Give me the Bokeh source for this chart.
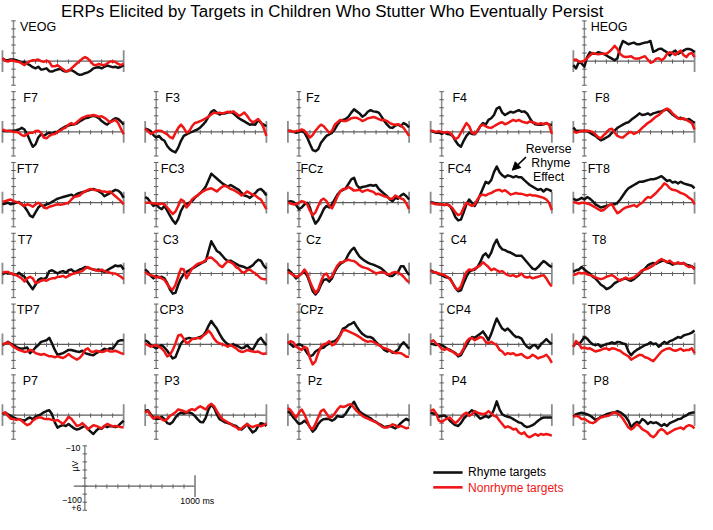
import numpy as np
from bokeh.plotting import figure
from bokeh.models import Range1d, Arrow, NormalHead
from bokeh.core.properties import value
from bokeh.embed import file_html
from bokeh.resources import INLINE

# ---------------------------------------------------------------- data
title_text = "ERPs Elicited by Targets in Children Who Stutter Who Eventually Persist"
series_names = ["Rhyme targets", "Nonrhyme targets"]
epoch_ms = [-100, 1000]
amp_range_uv = [-10, 6]
time_ticks_ms = [0, 100, 200, 300, 400, 500, 600, 700, 800, 900]
amp_ticks_uv = [-10, -8, -6, -4, -2, 0, 2, 4, 6]
scale_top_label = "\u221210"
scale_bottom_label = "+6"
scale_unit_label = "\u00b5V"
scale_start_label = "\u2212100"
scale_end_label = "1000 ms"
annotation_lines = ["Reverse", "Rhyme", "Effect"]

electrode_grid = [
    ["VEOG", None, None, None, "HEOG"],
    ["F7", "F3", "Fz", "F4", "F8"],
    ["FT7", "FC3", "FCz", "FC4", "FT8"],
    ["T7", "C3", "Cz", "C4", "T8"],
    ["TP7", "CP3", "CPz", "CP4", "TP8"],
    ["P7", "P3", "Pz", "P4", "P8"],
]

# amplitudes in microvolts, sampled every 25 ms from -100 to 1000 ms (negative plotted up)
veog_rhyme = [-0.6,-0.3,-0.2,-0.4,-0.4,-0.2,0.0,0.4,0.2,0.7,1.0,1.5,1.8,1.4,2.1,2.0,1.8,2.5,2.6,2.3,2.1,1.9,2.4,2.6,2.3,2.2,2.6,3.1,3.4,3.3,3.0,2.8,2.4,1.8,1.6,1.5,1.8,1.4,1.1,1.3,1.5,1.4,1.7,1.4,1.0]
veog_nonrhyme = [-0.7,-0.1,0.1,-0.2,-0.1,0.1,0.2,0.6,1.0,0.4,0.0,-0.2,-0.2,-0.4,0.0,0.2,-0.1,0.2,1.3,1.3,1.0,1.5,2.0,2.5,2.5,1.8,1.2,0.6,0.0,-0.6,-1.0,-0.6,0.1,0.9,1.0,0.7,0.9,1.0,0.6,0.1,0.1,0.2,0.7,1.0,0.6]
heog_rhyme = [1.0,1.8,0.2,0.6,1.4,-1.0,-2.2,-1.8,-1.8,-2.2,-2.0,-1.8,-1.4,-1.0,-0.6,-0.2,-0.7,-3.4,-5.0,-4.6,-4.2,-4.4,-4.6,-4.2,-4.2,-4.4,-4.6,-4.7,-5.0,-2.3,-2.6,-3.0,-3.1,-2.6,-2.2,-1.4,-2.2,-2.6,-1.8,-2.2,-2.6,-3.0,-3.0,-2.8,-2.2]
heog_nonrhyme = [-0.2,-0.4,0.1,0.2,-0.1,-0.7,-1.4,-2.0,-1.8,-1.7,-1.8,-1.8,-1.8,-2.3,-3.0,-3.8,-3.0,-1.8,-1.2,-1.0,-1.1,-1.2,-0.7,-0.6,-0.7,-1.0,-1.2,-0.4,0.4,0.2,-0.6,-0.7,-0.2,-0.7,-1.8,-2.2,-2.0,-1.5,-2.2,-2.6,-1.5,-1.0,-1.8,-2.0,-1.0]

f7_rhyme = [-0.3,-0.2,-0.2,-0.3,-0.3,-0.4,-0.6,-1.0,-0.6,0.6,2.2,3.7,3.1,1.4,0.6,1.0,0.5,0.2,0.5,0.0,0.0,-0.6,-1.0,-1.4,-1.6,-1.8,-1.9,-2.1,-2.6,-3.0,-3.4,-3.5,-3.8,-4.0,-3.8,-3.4,-2.7,-2.2,-1.8,-2.4,-3.0,-3.4,-3.2,-2.6,-1.8]
f7_nonrhyme = [-0.6,-0.3,-0.2,-0.2,0.0,0.0,0.2,0.8,1.0,0.5,0.2,0.2,-0.2,-0.3,0.2,1.4,1.6,1.0,0.6,0.5,0.0,-0.3,-0.8,-1.1,-1.8,-2.2,-1.8,-2.4,-3.0,-3.5,-3.8,-4.0,-4.0,-4.2,-4.0,-3.8,-3.9,-3.5,-3.0,-2.4,-2.7,-3.0,-2.2,-0.8,0.6]
f3_rhyme = [-0.8,-0.6,-0.2,0.8,1.4,1.0,1.8,2.2,3.5,4.3,4.8,5.1,3.9,2.2,1.0,0.6,0.2,0.0,-0.3,-0.6,-1.1,-1.8,-2.6,-3.8,-5.0,-5.4,-4.8,-4.3,-4.6,-4.6,-4.8,-5.0,-4.6,-4.0,-3.4,-3.0,-2.6,-2.2,-1.8,-1.9,-1.8,-3.0,-2.2,-1.8,-1.4]
f3_nonrhyme = [-0.8,-0.2,0.5,0.2,-0.3,-0.3,-0.2,0.2,0.6,1.3,1.6,0.2,-1.0,-1.8,-1.0,0.2,-0.2,-1.4,-2.2,-2.4,-2.7,-3.0,-3.4,-3.8,-4.3,-4.8,-4.6,-4.8,-4.6,-4.8,-5.0,-4.8,-5.1,-4.6,-4.0,-4.3,-4.8,-4.0,-3.0,-2.4,-2.7,-3.2,-2.4,-1.0,1.0]
fz_rhyme = [-0.3,-0.2,0.0,0.2,0.0,-0.2,0.2,1.4,3.0,4.5,4.8,4.3,2.7,1.8,1.0,0.6,0.2,-0.6,-1.8,-2.7,-3.0,-3.2,-3.8,-4.8,-5.6,-5.1,-4.6,-3.8,-4.2,-5.0,-5.4,-5.1,-5.0,-4.8,-3.8,-2.7,-1.8,-1.1,-1.0,-1.6,-1.8,-1.4,-2.2,-1.8,-1.1]
fz_nonrhyme = [-0.2,-0.3,0.0,-0.2,-0.3,-0.6,-0.3,0.5,1.4,0.8,-0.3,-1.1,-1.8,-1.4,-0.6,0.2,-0.3,-1.8,-2.4,-3.0,-2.7,-2.7,-3.0,-3.4,-3.5,-3.5,-3.2,-2.7,-3.0,-3.4,-3.5,-3.7,-3.5,-3.2,-2.9,-3.0,-2.7,-2.2,-1.9,-1.8,-1.9,-1.6,-1.0,0.0,1.0]
f4_rhyme = [-0.3,0.0,0.2,0.2,0.5,0.2,0.5,0.6,1.0,2.2,3.2,3.7,2.2,1.0,0.2,0.5,0.6,-0.2,-1.4,-2.2,-1.8,-3.0,-3.4,-4.2,-5.8,-6.2,-4.8,-4.2,-4.6,-5.0,-4.8,-5.1,-5.4,-5.0,-5.1,-4.6,-3.4,-2.4,-1.9,-1.8,-1.8,-1.9,-2.2,-1.8,-1.8]
f4_nonrhyme = [-0.3,-0.2,0.0,-0.2,0.0,0.2,0.0,0.2,1.0,1.8,1.4,0.2,-1.0,-2.2,-1.4,0.2,0.5,-0.3,-1.4,-1.8,-1.4,-1.1,-1.0,-1.4,-1.8,-2.2,-2.4,-1.9,-2.2,-2.6,-3.0,-2.7,-3.0,-2.6,-2.4,-2.2,-2.6,-2.4,-2.2,-1.9,-2.2,-1.9,-2.2,-1.8,0.5]
f8_rhyme = [-1.1,-0.2,-0.3,-0.2,-0.3,-0.2,0.2,0.6,1.0,1.6,2.1,1.8,1.4,1.0,0.2,-0.3,-1.0,-1.4,-1.8,-2.2,-2.4,-3.0,-3.5,-4.0,-4.6,-4.2,-4.3,-4.6,-4.2,-4.6,-4.8,-5.0,-5.1,-5.4,-5.6,-5.0,-4.3,-3.8,-3.4,-3.5,-3.2,-3.0,-3.2,-2.7,-2.2]
f8_nonrhyme = [-0.2,0.2,0.0,-0.3,-0.2,-0.3,-0.2,0.0,0.6,1.3,1.6,0.8,0.2,-0.6,-0.8,0.2,1.0,1.3,1.4,0.8,0.2,0.0,0.5,0.2,-0.3,-1.0,-1.6,-2.2,-2.6,-3.2,-3.8,-4.2,-4.8,-5.4,-5.8,-5.4,-4.6,-4.0,-3.4,-3.2,-3.4,-3.0,-2.6,-2.2,-0.6]

ft7_rhyme = [0.4,0.2,0.0,0.4,0.2,0.0,-0.2,0.4,1.0,2.0,3.2,3.6,2.4,1.2,0.6,0.8,0.4,0.2,-0.2,-0.6,-1.0,-1.2,-1.4,-1.6,-1.8,-2.0,-1.6,-2.2,-2.4,-2.6,-2.8,-3.0,-3.2,-3.4,-3.2,-2.8,-2.4,-1.6,-2.0,-2.4,-2.8,-3.2,-3.0,-2.4,-1.2]
ft7_nonrhyme = [-0.2,-0.4,-0.6,-0.8,-0.4,-0.2,0.0,0.4,0.8,0.4,0.6,1.0,0.4,0.0,0.4,1.2,1.4,1.0,0.8,0.6,0.4,0.5,0.4,0.2,0.0,-0.8,-1.4,-1.6,-1.8,-2.4,-2.8,-3.2,-3.4,-3.2,-3.1,-3.1,-2.8,-2.8,-2.6,-2.8,-2.2,-1.6,-1.0,-0.4,0.4]
fc3_rhyme = [-1.4,-1.0,0.0,0.8,0.4,1.2,1.6,0.8,2.0,3.2,4.4,5.2,4.0,2.0,0.8,0.4,0.0,-0.4,-1.2,-1.8,-2.4,-3.1,-4.0,-5.6,-7.2,-6.6,-6.0,-5.4,-4.8,-4.4,-4.0,-4.4,-4.0,-3.6,-3.2,-2.4,-1.8,-1.6,-1.2,-1.8,-2.4,-3.2,-3.4,-2.8,-1.8]
fc3_nonrhyme = [0.0,0.0,0.0,0.2,0.2,0.4,0.2,0.4,1.2,2.0,2.8,2.2,0.8,-0.8,-0.4,1.2,0.4,-0.8,-1.4,-1.8,-2.4,-2.8,-3.2,-3.4,-3.6,-3.2,-2.8,-3.4,-4.0,-4.2,-3.9,-3.4,-3.2,-2.8,-2.4,-1.8,-2.2,-2.8,-2.4,-2.0,-1.8,-1.2,-0.8,0.4,1.6]
fcz_rhyme = [-0.2,-0.4,-0.2,0.6,1.6,1.2,0.4,0.0,1.2,3.6,5.2,4.4,3.1,1.6,0.8,1.2,0.4,-0.8,-2.0,-2.8,-3.2,-3.6,-4.7,-5.8,-6.2,-4.4,-3.6,-3.9,-4.0,-4.2,-4.4,-4.2,-4.4,-3.4,-2.8,-2.2,-1.6,-0.8,-0.4,-1.2,-1.0,-1.8,-2.2,-1.6,-0.8]
fcz_nonrhyme = [0.0,0.2,0.4,0.4,0.0,-0.4,-0.2,0.4,2.0,3.1,2.4,0.8,-0.6,-1.0,-0.4,0.8,1.4,0.0,-1.6,-2.8,-3.4,-3.4,-3.9,-3.5,-3.0,-3.1,-3.2,-2.7,-3.0,-3.2,-2.9,-2.7,-2.1,-2.2,-1.9,-1.6,-1.4,-1.0,-1.0,-1.8,-1.4,-1.1,-0.8,0.2,1.6]
fc4_rhyme = [-0.2,0.0,0.2,0.4,0.4,0.6,0.4,0.8,2.0,3.6,4.4,4.2,2.4,0.4,-0.8,0.0,0.8,-0.4,-2.0,-3.6,-5.2,-4.8,-5.6,-7.6,-9.0,-7.6,-6.8,-6.3,-6.8,-6.6,-6.3,-6.6,-6.3,-6.3,-5.6,-5.0,-4.4,-4.0,-3.6,-3.2,-3.4,-2.8,-3.4,-3.2,-2.8]
fc4_nonrhyme = [0.0,0.2,0.4,0.4,0.4,0.6,0.4,0.8,1.4,2.4,3.1,2.8,1.2,0.0,0.4,0.8,0.4,-0.8,-1.8,-2.0,-1.8,-2.2,-2.4,-2.8,-3.1,-3.2,-2.8,-3.1,-2.6,-2.0,-2.2,-2.4,-2.2,-2.2,-2.0,-1.8,-2.0,-1.8,-1.8,-1.6,-1.4,-1.2,-0.8,0.0,1.8]
ft8_rhyme = [-1.0,-0.6,-0.8,-1.2,-0.8,-1.4,-1.0,-0.4,0.4,0.8,1.2,1.0,0.8,0.6,0.4,0.4,0.0,-0.8,-1.8,-2.8,-3.6,-4.0,-4.4,-4.8,-5.2,-5.2,-5.4,-5.6,-5.8,-5.8,-6.0,-6.3,-6.6,-6.0,-5.4,-5.6,-5.0,-5.2,-4.8,-5.2,-4.8,-4.6,-4.4,-4.2,-3.6]
ft8_nonrhyme = [-0.2,0.0,0.2,0.0,0.0,0.2,0.4,0.8,1.2,1.6,2.0,1.8,1.2,0.6,0.4,1.6,2.6,2.2,1.6,1.2,1.0,0.8,0.6,1.0,0.4,0.0,-0.8,-1.4,-1.2,-1.8,-2.4,-3.2,-3.9,-4.8,-4.4,-3.6,-3.2,-3.1,-2.8,-2.4,-2.2,-1.8,-1.2,-0.8,0.4]

t7_rhyme = [0.2,-0.2,0.0,0.0,0.2,0.4,-0.2,0.4,0.8,2.0,3.0,3.9,2.8,1.6,1.2,1.4,1.0,-0.6,-0.8,-0.4,0.0,-0.4,-0.6,-0.2,-0.8,-1.0,-0.4,-0.6,-1.0,-1.2,-1.6,-1.4,-1.2,-1.0,-0.8,-1.0,-0.6,-0.4,-0.8,-1.2,-1.6,-2.0,-1.8,-2.0,-1.0]
t7_nonrhyme = [-0.2,-0.4,-0.4,0.0,0.2,0.4,0.8,1.2,2.0,1.2,0.8,1.2,2.4,2.2,1.8,1.6,1.8,1.4,1.2,1.2,0.8,0.8,0.6,1.0,0.6,0.2,0.0,-0.2,-0.4,-0.6,-1.2,-1.6,-1.2,-1.0,-0.8,-0.6,-1.0,-0.6,-0.4,-0.2,0.0,0.0,0.4,0.8,1.4]
c3_rhyme = [-1.0,-0.4,0.6,1.2,0.6,1.0,0.8,1.2,2.4,4.0,5.0,4.8,2.8,1.2,0.2,-0.4,-0.8,-1.2,-1.6,-2.0,-2.4,-2.8,-3.1,-5.6,-8.0,-6.8,-5.6,-5.2,-4.4,-3.6,-3.1,-3.2,-2.8,-2.4,-2.0,-1.8,-1.6,-1.2,-1.6,-2.0,-2.8,-3.4,-3.2,-2.0,-1.2]
c3_nonrhyme = [-0.4,0.2,0.4,0.6,1.0,0.8,1.2,1.6,2.6,3.6,4.0,2.8,0.8,-1.2,-1.0,1.2,0.0,-1.2,-1.8,-2.4,-2.6,-2.8,-3.4,-3.9,-4.0,-3.4,-2.8,-2.0,-1.6,-2.4,-3.1,-2.8,-2.4,-1.6,-1.2,-0.4,-0.2,-0.8,-1.0,-0.4,0.0,0.6,1.2,1.4,1.4]
cz_rhyme = [-1.0,-0.4,0.4,1.2,0.6,0.0,-0.4,0.6,2.4,4.4,5.2,4.4,2.8,1.6,1.4,2.0,1.2,-0.4,-1.6,-2.4,-2.8,-3.4,-4.8,-5.8,-6.4,-5.2,-4.2,-3.6,-3.1,-2.7,-2.4,-2.2,-1.9,-1.6,-1.2,-0.6,0.2,0.6,0.6,0.0,-0.4,-1.8,-1.8,-0.6,0.4]
cz_nonrhyme = [-0.4,0.0,0.4,0.8,0.6,0.0,-1.0,0.0,2.0,3.6,4.8,4.0,2.0,0.4,0.0,1.2,0.8,-0.8,-2.0,-2.8,-2.8,-3.2,-3.4,-3.2,-3.1,-2.6,-2.0,-1.6,-1.4,-1.2,-0.8,-0.4,0.0,-0.2,-0.4,-0.2,0.2,0.2,-0.2,-0.4,-0.2,0.2,0.8,1.6,2.2]
c4_rhyme = [-0.8,-0.4,-0.2,0.2,0.4,0.8,1.0,1.2,2.4,3.6,4.4,4.2,2.4,0.8,-0.4,-0.8,-1.0,-1.6,-2.8,-4.4,-5.0,-4.0,-5.2,-7.2,-8.4,-6.8,-6.0,-5.8,-5.4,-5.2,-4.8,-4.4,-4.4,-4.4,-3.6,-2.8,-2.0,-1.2,-1.0,-1.6,-2.4,-3.1,-2.6,-2.0,-1.6]
c4_nonrhyme = [-0.6,-0.4,-0.2,0.0,0.2,0.4,0.8,1.4,2.4,3.6,4.0,3.2,1.2,-0.4,-1.0,-0.8,-1.2,-1.6,-2.0,-2.8,-2.2,-1.6,-0.8,-1.2,-0.8,-0.4,-0.6,0.0,0.4,0.6,0.4,0.8,0.6,0.0,0.8,1.0,0.8,1.2,1.0,0.8,0.6,0.4,1.2,2.4,3.2]
t8_rhyme = [-0.4,-0.8,-1.0,-1.6,-1.0,-0.4,0.0,0.8,1.2,2.0,2.8,3.2,3.9,3.6,3.1,2.4,2.0,1.6,1.4,1.2,1.6,1.8,1.4,0.8,0.2,-0.6,-1.2,-2.0,-2.4,-2.6,-2.4,-2.8,-3.1,-3.2,-2.8,-2.6,-2.2,-2.4,-2.6,-2.4,-2.6,-2.2,-2.0,-1.8,-1.2]
t8_nonrhyme = [0.4,0.2,-0.2,0.0,-0.2,0.2,0.4,0.6,1.0,1.2,1.4,1.2,0.8,0.6,0.4,0.8,1.4,1.8,1.4,1.0,1.4,1.2,1.0,0.4,-0.2,-0.8,-1.0,-1.2,-1.6,-2.0,-2.6,-3.2,-3.6,-3.2,-2.8,-3.2,-2.6,-2.4,-2.8,-2.4,-2.6,-2.0,-1.6,-1.8,-1.0]

tp7_rhyme = [0.2,-0.2,-0.6,-0.2,0.2,0.6,1.0,1.1,1.0,0.8,2.2,1.6,0.8,0.2,-0.6,-0.8,-1.0,-1.6,-0.2,1.4,2.6,2.4,2.2,1.8,1.4,1.4,1.6,1.8,1.9,1.6,2.2,2.4,2.6,2.7,2.2,1.9,1.6,1.1,1.4,1.0,1.1,0.2,-0.8,-1.0,-1.0]
tp7_nonrhyme = [0.0,-0.2,-0.5,0.0,0.6,1.0,1.4,1.6,1.9,1.8,1.4,1.6,2.2,2.4,2.6,2.4,2.7,3.0,3.0,3.2,3.0,3.2,3.4,3.0,2.4,3.0,3.4,3.8,3.4,2.6,1.4,1.0,1.8,1.9,1.6,1.8,1.9,1.8,1.4,1.8,1.8,1.6,1.9,2.2,2.4]
cp3_rhyme = [-1.0,-0.6,0.2,0.6,1.0,0.6,0.2,0.8,1.6,2.6,3.5,3.2,1.4,-0.2,-1.0,-1.4,-1.6,-1.4,-1.4,-1.6,-1.8,-2.2,-3.1,-4.6,-5.8,-4.8,-3.9,-2.6,-1.4,-0.6,0.0,0.2,0.0,0.3,0.6,1.0,0.8,0.2,1.0,1.4,0.2,-1.0,-1.6,-0.6,0.2]
cp3_nonrhyme = [-0.2,0.2,0.6,0.3,0.2,0.6,1.0,1.8,3.0,2.6,1.4,-0.2,-2.2,-2.4,-1.4,-0.2,-0.6,-1.3,-1.4,-1.6,-1.4,-2.1,-2.6,-3.4,-2.6,-1.4,-0.6,-0.2,0.0,0.2,0.6,0.2,0.6,1.0,1.6,1.9,1.8,1.4,1.6,1.8,1.9,1.8,2.2,2.4,2.2]
cpz_rhyme = [-0.6,0.0,0.6,0.3,0.0,0.2,1.1,2.2,3.0,2.7,1.8,1.4,1.0,0.8,0.2,-0.2,-0.6,-0.8,-1.4,-2.4,-3.9,-4.2,-4.8,-5.1,-5.5,-4.4,-3.4,-2.6,-2.1,-1.8,-1.8,-1.4,-0.5,0.1,0.6,1.4,1.8,1.5,2.1,1.8,1.4,0.2,-0.5,0.3,1.1]
cpz_nonrhyme = [-0.2,-0.8,-0.5,0.6,1.0,1.4,0.6,1.0,3.4,5.0,4.2,2.2,0.6,0.0,-0.2,-0.8,0.2,0.0,-1.0,-2.2,-3.5,-3.5,-3.2,-2.9,-2.6,-2.2,-1.8,-1.3,-0.9,-0.6,-0.8,-0.6,-0.2,0.2,0.6,1.0,1.1,1.6,1.9,2.2,2.1,2.2,2.6,3.1,3.1]
cp4_rhyme = [-0.2,0.0,0.2,0.0,0.2,0.6,1.1,1.4,1.8,2.2,3.0,2.7,1.4,0.2,-1.0,-1.8,-1.6,-2.1,-2.6,-3.2,-2.2,-1.0,-2.6,-4.6,-6.4,-5.1,-3.9,-3.4,-3.9,-3.2,-2.4,-1.8,-1.8,-1.4,-0.2,0.6,1.0,0.3,0.2,1.0,0.0,-0.6,-1.3,-0.6,0.0]
cp4_nonrhyme = [-0.6,-1.0,-0.2,0.3,1.1,1.4,1.1,1.6,1.8,2.4,2.7,2.2,1.0,-0.6,-1.4,-1.6,-1.0,-1.4,-1.8,-1.6,-0.6,-0.2,-0.6,-0.2,0.2,1.4,1.8,2.6,2.2,2.4,2.2,2.7,2.6,2.4,3.0,3.4,3.2,2.6,3.0,3.5,3.2,3.0,2.6,3.4,4.6]
tp8_rhyme = [0.6,-0.6,0.0,-0.8,-1.8,-1.4,-0.6,0.0,0.2,0.0,0.6,0.2,0.0,-0.2,-0.5,-0.2,-0.6,-0.5,-0.2,0.0,1.8,2.7,1.9,1.4,1.0,0.6,0.2,0.0,-0.5,0.0,-0.2,0.6,0.0,-0.6,-0.2,-0.8,-1.0,-1.4,-1.8,-1.6,-2.2,-2.4,-2.6,-2.9,-3.4]
tp8_nonrhyme = [0.6,-0.8,-0.2,1.0,0.8,1.1,1.0,1.4,1.8,1.6,1.4,1.1,1.0,1.4,1.0,1.1,1.4,1.6,2.2,2.6,3.0,3.8,3.4,3.0,2.6,2.7,3.2,3.4,3.8,4.2,3.4,2.6,1.8,1.4,1.1,1.0,1.4,1.6,1.4,1.1,1.6,1.4,1.4,1.0,2.2]

p7_rhyme = [-0.2,-0.6,-0.2,0.2,0.6,0.9,1.0,1.2,1.4,0.9,0.6,1.0,0.4,0.1,-0.2,-0.7,-1.0,-1.2,-0.2,1.8,3.1,2.7,2.5,2.7,2.2,2.8,3.3,3.6,3.4,3.0,2.7,3.4,4.1,4.7,3.9,3.3,3.4,2.7,3.0,2.7,2.8,3.0,2.7,2.0,1.4]
p7_nonrhyme = [-0.4,-0.7,0.2,0.9,1.0,1.2,1.0,1.4,2.0,2.5,2.2,1.4,0.9,0.6,0.6,0.9,1.0,1.0,1.2,1.4,1.2,1.7,2.2,1.4,0.4,0.9,1.8,2.7,2.5,2.0,2.7,3.5,3.0,2.5,2.7,3.0,3.3,2.7,2.2,2.5,2.8,2.7,2.8,3.0,3.0]
p3_rhyme = [-1.0,-1.2,-0.2,0.6,1.0,0.9,0.4,1.0,2.0,2.2,1.7,0.6,-0.2,-0.6,-0.4,-0.6,-0.7,-0.4,0.2,1.0,1.7,1.8,0.6,-1.4,-2.6,-1.8,-0.2,1.0,1.4,1.8,2.0,2.2,2.5,2.7,3.3,3.6,3.0,2.2,3.4,4.3,3.9,2.8,2.0,2.2,2.7]
p3_nonrhyme = [-0.6,-1.0,0.1,0.9,0.4,0.6,1.0,1.4,1.0,0.2,-0.2,-0.7,-1.4,-1.2,-1.0,-0.7,-1.2,-1.5,-1.2,-1.8,-2.2,-1.8,-1.4,-2.3,-2.8,-2.2,-1.0,0.1,1.0,1.4,1.8,2.2,2.7,3.0,3.6,3.3,2.7,2.2,2.7,3.0,2.7,2.5,2.8,2.5,2.0]
pz_rhyme = [-1.0,-0.4,0.6,1.4,2.2,2.0,1.4,2.0,3.0,4.1,3.4,2.2,1.4,1.0,0.9,1.0,1.4,1.0,0.2,0.4,0.4,-0.4,-1.5,-2.4,-3.3,-2.0,-0.9,-0.4,0.1,0.4,0.8,1.4,1.7,2.2,2.5,3.0,2.8,2.7,3.0,3.3,2.7,2.0,1.4,0.9,1.4]
pz_nonrhyme = [-1.8,-1.2,-0.2,0.6,-0.6,-1.4,-0.2,1.4,3.1,3.5,2.2,0.6,-1.0,-1.4,-0.4,0.6,0.4,-0.4,-1.4,-2.2,-2.0,-2.2,-2.6,-2.7,-1.8,-1.0,-0.4,0.2,0.6,0.9,1.2,1.5,1.8,2.3,2.8,3.1,3.1,2.8,2.3,2.5,3.0,2.7,3.0,3.3,3.1]
p4_rhyme = [-0.6,-0.4,-0.2,0.4,0.2,0.1,0.6,1.4,2.0,2.5,2.7,2.0,0.9,0.2,-0.6,-1.2,-0.7,0.2,0.9,0.6,0.2,0.6,0.1,-1.4,-3.4,-1.4,-0.2,0.2,0.4,0.6,1.0,1.4,1.8,2.0,2.7,3.0,2.8,2.5,2.0,1.4,0.9,0.6,0.6,0.6,0.6]
p4_nonrhyme = [-1.0,-1.4,-0.4,1.4,1.7,1.2,0.9,0.6,1.4,2.0,1.4,0.6,-0.2,-0.6,0.2,-0.2,-1.0,-0.6,-0.4,-0.2,-0.4,-1.0,-0.4,0.2,0.4,1.4,2.2,3.1,2.8,3.1,3.6,3.4,4.3,4.7,4.3,5.2,5.5,5.1,4.7,5.1,4.7,4.9,4.7,4.9,5.1]
p8_rhyme = [0.4,-0.2,-0.4,-0.6,-0.4,-0.2,0.1,0.6,1.2,0.9,0.4,0.2,-0.2,-0.4,-0.6,-0.7,-1.0,-0.7,-0.2,0.4,1.4,3.1,2.2,1.7,2.0,1.0,1.4,2.2,1.7,2.0,1.8,2.2,2.7,2.2,2.7,2.0,1.7,1.4,1.0,0.9,0.4,0.1,-0.4,-0.6,-0.7]
p8_nonrhyme = [0.4,0.2,0.4,1.0,0.9,1.4,1.8,2.0,1.7,1.0,0.6,0.4,0.2,0.1,-0.4,-0.7,-0.4,0.1,0.9,2.0,3.1,3.6,3.1,2.2,2.7,3.5,3.9,4.3,5.1,5.5,4.9,3.9,3.5,3.9,4.7,4.3,3.9,3.5,3.3,3.1,3.5,2.8,2.5,2.7,3.3]

waveforms = {
    "VEOG": (veog_rhyme, veog_nonrhyme), "HEOG": (heog_rhyme, heog_nonrhyme),
    "F7": (f7_rhyme, f7_nonrhyme), "F3": (f3_rhyme, f3_nonrhyme), "Fz": (fz_rhyme, fz_nonrhyme),
    "F4": (f4_rhyme, f4_nonrhyme), "F8": (f8_rhyme, f8_nonrhyme),
    "FT7": (ft7_rhyme, ft7_nonrhyme), "FC3": (fc3_rhyme, fc3_nonrhyme), "FCz": (fcz_rhyme, fcz_nonrhyme),
    "FC4": (fc4_rhyme, fc4_nonrhyme), "FT8": (ft8_rhyme, ft8_nonrhyme),
    "T7": (t7_rhyme, t7_nonrhyme), "C3": (c3_rhyme, c3_nonrhyme), "Cz": (cz_rhyme, cz_nonrhyme),
    "C4": (c4_rhyme, c4_nonrhyme), "T8": (t8_rhyme, t8_nonrhyme),
    "TP7": (tp7_rhyme, tp7_nonrhyme), "CP3": (cp3_rhyme, cp3_nonrhyme), "CPz": (cpz_rhyme, cpz_nonrhyme),
    "CP4": (cp4_rhyme, cp4_nonrhyme), "TP8": (tp8_rhyme, tp8_nonrhyme),
    "P7": (p7_rhyme, p7_nonrhyme), "P3": (p3_rhyme, p3_nonrhyme), "Pz": (pz_rhyme, pz_nonrhyme),
    "P4": (p4_rhyme, p4_nonrhyme), "P8": (p8_rhyme, p8_nonrhyme),
}

# ---------------------------------------------------------------- layout / style
FIG_W, FIG_H = 697, 514
REF_W, REF_H = 713, 530
S = FIG_W / REF_W
FONT = "Liberation Sans"
BLACK = "#111111"
RED = "#f01616"
AXIS_COL = "#5e5e5e"
BAR_COL = "#8c8c8c"

COL_X0, COL_PITCH, PANEL_W = 2.0, 146.0, 124.0
ROW_Y0, ROW_PITCH, PX_PER_UV = 62.5, 73.0, 4.15
SCALE_X0, SCALE_Y0 = 75.0, 500.7

# left offset of each electrode label from its vertical axis (layout, pixels)
label_offset = {
    "VEOG": 6.7, "HEOG": 6.4,
    "F7": 10.0, "F3": 9.3, "Fz": 7.3, "F4": 11.0, "F8": 11.0,
    "FT7": 3.4, "FC3": 4.7, "FCz": 1.5, "FC4": 6.0, "FT8": 3.4,
    "T7": 4.5, "C3": 6.7, "Cz": 7.3, "C4": 9.3, "T8": 7.7,
    "TP7": 3.4, "CP3": 3.3, "CPz": 1.0, "CP4": 5.0, "TP8": 3.4,
    "P7": 9.4, "P3": 8.3, "Pz": 9.0, "P4": 10.0, "P8": 9.4,
}


def fs(px):
    return f"{px * S:.1f}px"


def tx(x0, t):
    return x0 + (np.asarray(t, dtype=float) - epoch_ms[0]) * PANEL_W / (epoch_ms[1] - epoch_ms[0])


def vy(y0, v):
    return y0 + np.asarray(v, dtype=float) * PX_PER_UV


p = figure(width=FIG_W, height=FIG_H, x_range=Range1d(0, REF_W), y_range=Range1d(REF_H, 0),
           x_axis_type=None, y_axis_type=None, output_backend="svg", toolbar_location=None,
           min_border=0)
p.grid.visible = False
p.outline_line_color = None
p.background_fill_color = "white"
p.border_fill_color = "white"

hx0, hx1, hy = [], [], []          # x-axis lines
vx, vy0, vy1 = [], [], []          # vertical axis lines
tk = {"x0": [], "y0": [], "x1": [], "y1": []}   # ticks
bar = {"x": [], "y0": [], "y1": []}             # end bars


def add_axes(x0, y0, left_bar=True):
    xa, xb = tx(x0, epoch_ms[0]), tx(x0, epoch_ms[1])
    x_zero = float(tx(x0, 0))
    hx0.append(float(xa)); hx1.append(float(xb)); hy.append(y0)
    vx.append(x_zero); vy0.append(float(vy(y0, amp_range_uv[0]))); vy1.append(float(vy(y0, amp_range_uv[1])))
    for t in time_ticks_ms[1:]:
        xt = float(tx(x0, t))
        tk["x0"].append(xt); tk["x1"].append(xt); tk["y0"].append(y0 - 1.8); tk["y1"].append(y0 + 2.6)
    for a in amp_ticks_uv:
        yt = float(vy(y0, a))
        tk["x0"].append(x_zero - 2.3); tk["x1"].append(x_zero + 2.3); tk["y0"].append(yt); tk["y1"].append(yt)
    ends = [epoch_ms[0], epoch_ms[1]] if left_bar else [epoch_ms[1]]
    for t in ends:
        bar["x"].append(float(tx(x0, t)))
        bar["y0"].append(float(vy(y0, -2.7))); bar["y1"].append(float(vy(y0, 2.7)))


panels = []
for r, row in enumerate(electrode_grid):
    for c, name in enumerate(row):
        if name is None:
            continue
        x0 = COL_X0 + COL_PITCH * c
        y0 = ROW_Y0 + ROW_PITCH * r
        panels.append((name, x0, y0))
        add_axes(x0, y0)

add_axes(SCALE_X0, SCALE_Y0, left_bar=False)

p.segment(x0=hx0, y0=hy, x1=hx1, y1=hy, line_color=AXIS_COL, line_width=1.2)
p.segment(x0=vx, y0=vy0, x1=vx, y1=vy1, line_color=BAR_COL, line_width=1.5)
p.segment(x0=tk["x0"], y0=tk["y0"], x1=tk["x1"], y1=tk["y1"], line_color=AXIS_COL, line_width=1.0)
p.segment(x0=bar["x"], y0=bar["y0"], x1=bar["x"], y1=bar["y1"], line_color=BAR_COL, line_width=1.8)

# waveforms
for name, x0, y0 in panels:
    rh, nr = waveforms[name]
    for vals, col in ((rh, BLACK), (nr, RED)):
        t = np.linspace(epoch_ms[0], epoch_ms[1], len(vals))
        p.line(tx(x0, t), vy(y0, vals), line_color=col, line_width=2.5, line_join="round")

# electrode labels (left aligned)
lx, ly, lt = [], [], []
for name, x0, y0 in panels:
    lx.append(float(tx(x0, 0)) + label_offset[name]); ly.append(y0 - 35.0); lt.append(name)
p.text(x=lx, y=ly, text=lt, text_font=value(FONT), text_font_size=fs(12.8),
       text_align="left", text_baseline="middle", text_color="black")

# title
p.text(x=[62], y=[11], text=[title_text], text_font=value(FONT), text_font_size=fs(17.3),
       text_align="left", text_baseline="middle", text_color="black")

# annotation
p.text(x=[537.3, 543.0, 544.7], y=[153, 167.5, 182], text=annotation_lines, text_font=value(FONT),
       text_font_size=fs(12.6), text_align="left", text_baseline="middle", text_color="black")
p.add_layout(Arrow(end=NormalHead(size=8, fill_color="black", line_color="black"),
                   x_start=537.5, y_start=161.5, x_end=523.5, y_end=175.0,
                   line_color="black", line_width=1.6))

# scale bar labels
sx0 = float(tx(SCALE_X0, 0))
p.text(x=[66.5, 72.5, 63.0, 184.0], y=[461.5, 523.0, 515.5, 516.5],
       text=[scale_top_label, scale_bottom_label, scale_start_label, scale_end_label],
       text_font=value(FONT), text_font_size=fs(9.0), text_align="left", text_baseline="middle",
       text_color="black")
p.text(x=[sx0 - 10], y=[480], text=[scale_unit_label], text_font=value(FONT), angle=np.pi / 2,
       text_font_size=fs(9.0), text_align="center", text_baseline="middle", text_color="black")

# legend
p.segment(x0=[442.7, 442.7], y0=[486.7, 502.0], x1=[472.7, 472.7], y1=[486.7, 502.0],
          line_color=[BLACK, RED], line_width=2.6)
p.text(x=[478.3, 478.3], y=[486.5, 502.5], text=series_names, text_font=value(FONT),
       text_font_size=fs(12.3), text_align="left", text_baseline="middle", text_color=["black", RED])

open("out.html", "w").write(file_html(p, INLINE))
